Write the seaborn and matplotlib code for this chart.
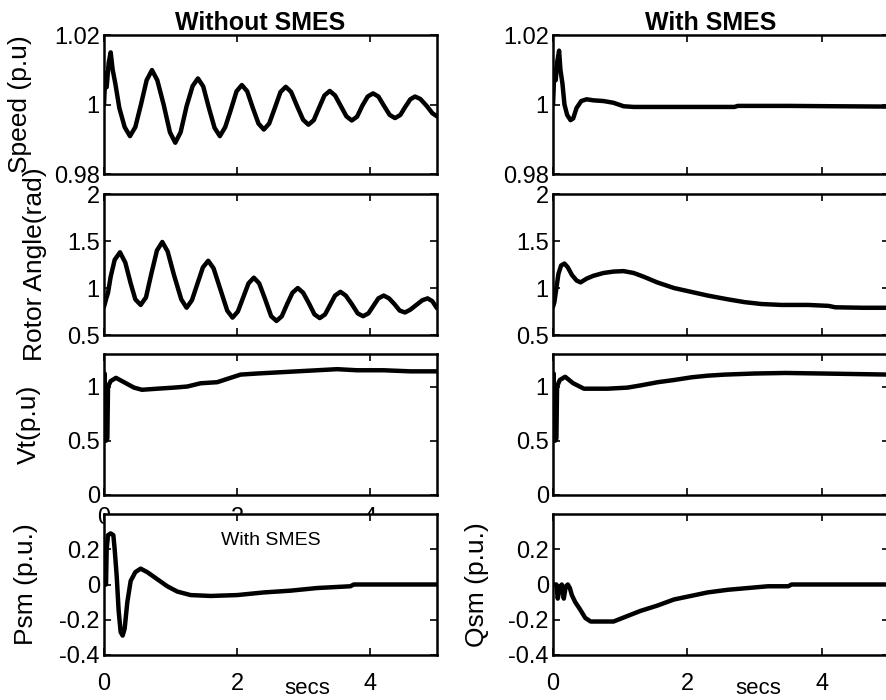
import matplotlib
matplotlib.use("Agg")
import matplotlib.pyplot as plt
import seaborn as sns

# ---- values (time in secs) ----
t_speed_wo = [0.00, 0.02, 0.04, 0.07, 0.10, 0.13, 0.17, 0.23, 0.31, 0.39, 0.47, 0.555, 0.64, 0.72,
              0.80, 0.895, 0.99, 1.07, 1.15, 1.24, 1.33, 1.41, 1.49, 1.575, 1.66, 1.74, 1.82, 1.905,
              1.99, 2.07, 2.15, 2.235, 2.32, 2.40, 2.48, 2.565, 2.65, 2.73, 2.81, 2.90, 2.99, 3.07,
              3.15, 3.23, 3.31, 3.39, 3.47, 3.555, 3.64, 3.72, 3.80, 3.88, 3.96, 4.04, 4.12, 4.205,
              4.29, 4.37, 4.45, 4.52, 4.60, 4.67, 4.75, 4.85, 4.93, 5.00]
speed_wo = [1.000, 1.009, 1.005, 1.012, 1.015, 1.010, 1.006, 0.999, 0.9935, 0.9909, 0.9935, 1.000,
            1.007, 1.0099, 1.007, 1.000, 0.992, 0.989, 0.992, 0.9995, 1.0053, 1.0075, 1.0052, 0.999,
            0.9933, 0.9909, 0.9935, 0.9985, 1.0038, 1.0056, 1.0038, 0.999, 0.9945, 0.9928, 0.9945,
            0.999, 1.0036, 1.0051, 1.0036, 0.9995, 0.9956, 0.9942, 0.9955, 0.9991, 1.0026, 1.0039,
            1.0026, 0.9996, 0.9966, 0.9954, 0.9965, 0.9997, 1.0023, 1.0032, 1.0023, 0.9996, 0.9970,
            0.9961, 0.9970, 0.9992, 1.0015, 1.0023, 1.0016, 0.9995, 0.9975, 0.9966]

t_speed_w = [0.00, 0.02, 0.04, 0.06, 0.09, 0.11, 0.14, 0.17, 0.21, 0.26, 0.30, 0.35, 0.42, 0.50,
             0.60, 0.75, 0.90, 1.05, 1.20, 2.00, 2.70, 2.75, 3.50, 4.20, 5.00]
speed_w = [1.000, 1.010, 1.007, 1.012, 1.0155, 1.010, 1.006, 1.000, 0.997, 0.9955, 0.996, 0.999,
           1.001, 1.0015, 1.0012, 1.001, 1.0005, 0.9995, 0.9993, 0.9993, 0.9993, 0.9996, 0.9996,
           0.9995, 0.9994]

t_angle_wo = [0.00, 0.03, 0.06, 0.10, 0.16, 0.24, 0.32, 0.40, 0.47, 0.55, 0.63, 0.71, 0.795, 0.875,
              0.955, 1.05, 1.16, 1.24, 1.32, 1.40, 1.485, 1.565, 1.645, 1.75, 1.85, 1.93, 2.01, 2.09,
              2.17, 2.25, 2.33, 2.42, 2.51, 2.59, 2.67, 2.75, 2.83, 2.91, 2.99, 3.075, 3.16, 3.24,
              3.32, 3.395, 3.47, 3.55, 3.63, 3.72, 3.81, 3.89, 3.97, 4.045, 4.12, 4.20, 4.28, 4.36,
              4.44, 4.52, 4.60, 4.69, 4.78, 4.86, 4.93, 5.00]
angle_wo = [0.80, 0.88, 0.95, 1.12, 1.30, 1.38, 1.27, 1.05, 0.88, 0.82, 0.90, 1.15, 1.40, 1.49,
            1.39, 1.14, 0.88, 0.79, 0.87, 1.04, 1.22, 1.29, 1.21, 0.98, 0.76, 0.685, 0.75, 0.90,
            1.05, 1.11, 1.05, 0.88, 0.70, 0.65, 0.70, 0.83, 0.95, 1.00, 0.95, 0.84, 0.72, 0.68,
            0.72, 0.82, 0.92, 0.96, 0.92, 0.83, 0.73, 0.70, 0.73, 0.81, 0.89, 0.92, 0.89, 0.83,
            0.76, 0.74, 0.77, 0.82, 0.87, 0.89, 0.86, 0.785]

t_angle_w = [0.00, 0.02, 0.05, 0.08, 0.12, 0.17, 0.22, 0.28, 0.35, 0.41, 0.50, 0.60, 0.75, 0.90,
             1.05, 1.20, 1.35, 1.55, 1.80, 2.05, 2.30, 2.60, 2.85, 3.10, 3.40, 3.80, 4.10, 4.20,
             4.60, 5.00]
angle_w = [0.80, 0.85, 1.00, 1.15, 1.24, 1.26, 1.22, 1.14, 1.08, 1.06, 1.10, 1.13, 1.16, 1.175,
           1.18, 1.16, 1.12, 1.06, 1.00, 0.96, 0.92, 0.88, 0.85, 0.83, 0.82, 0.82, 0.81, 0.795,
           0.79, 0.79]

t_vt_wo = [0.00, 0.01, 0.02, 0.03, 0.05, 0.06, 0.10, 0.18, 0.30, 0.45, 0.57, 0.80, 1.05, 1.25,
           1.45, 1.70, 1.85, 2.05, 2.30, 2.60, 2.90, 3.20, 3.50, 3.80, 4.20, 4.60, 5.00]
vt_wo = [1.10, 1.12, 0.52, 0.50, 0.52, 1.00, 1.05, 1.08, 1.04, 0.99, 0.97, 0.98, 0.99, 1.00,
         1.03, 1.04, 1.07, 1.11, 1.12, 1.13, 1.14, 1.15, 1.16, 1.15, 1.15, 1.14, 1.14]

t_vt_w = [0.00, 0.01, 0.02, 0.03, 0.05, 0.06, 0.10, 0.18, 0.30, 0.46, 0.81, 1.11, 1.30, 1.56,
          1.80, 2.06, 2.30, 2.56, 3.00, 3.46, 4.00, 4.50, 5.00]
vt_w = [1.10, 1.12, 0.52, 0.50, 0.52, 1.00, 1.06, 1.09, 1.03, 0.98, 0.98, 0.99, 1.01, 1.04,
        1.06, 1.085, 1.10, 1.11, 1.12, 1.125, 1.12, 1.115, 1.11]

t_psm = [0.00, 0.03, 0.04, 0.06, 0.10, 0.14, 0.16, 0.19, 0.22, 0.25, 0.28, 0.31, 0.35, 0.40,
         0.47, 0.55, 0.65, 0.80, 0.95, 1.10, 1.30, 1.60, 2.00, 2.40, 2.80, 3.20, 3.70, 3.75,
         4.30, 5.00]
psm = [0.00, 0.00, 0.20, 0.28, 0.29, 0.28, 0.20, 0.05, -0.15, -0.27, -0.29, -0.25, -0.10, 0.02,
       0.07, 0.09, 0.07, 0.03, -0.01, -0.04, -0.06, -0.065, -0.06, -0.045, -0.035, -0.02, -0.01,
       0.00, 0.00, 0.00]

t_qsm = [0.00, 0.05, 0.07, 0.10, 0.13, 0.16, 0.19, 0.22, 0.25, 0.28, 0.33, 0.40, 0.48, 0.56,
         0.70, 0.90, 1.10, 1.30, 1.55, 1.80, 2.05, 2.30, 2.60, 2.90, 3.20, 3.50, 3.55, 4.20, 5.00]
qsm = [0.00, 0.00, -0.08, -0.02, 0.00, -0.08, -0.01, 0.00, -0.02, -0.06, -0.10, -0.14, -0.19,
       -0.21, -0.21, -0.21, -0.18, -0.15, -0.12, -0.085, -0.065, -0.045, -0.03, -0.02, -0.01,
       -0.01, 0.00, 0.00, 0.00]

x_ticks = [0, 2, 4]
x_ticklabels = ["0", "2", "4"]
speed_ticks, speed_labels = [0.98, 1.0, 1.02], ["0.98", "1", "1.02"]
angle_ticks, angle_labels = [0.5, 1.0, 1.5, 2.0], ["0.5", "1", "1.5", "2"]
vt_ticks, vt_labels = [0, 0.5, 1.0], ["0", "0.5", "1"]
pq_ticks, pq_labels = [-0.4, -0.2, 0, 0.2], ["-0.4", "-0.2", "0", "0.2"]

sns.set_theme(style="ticks")
plt.rcParams['font.family'] = ['Liberation Sans', 'DejaVu Sans']
plt.rcParams['axes.linewidth'] = 1.8
plt.rcParams['text.color'] = 'black'
plt.rcParams['axes.labelcolor'] = 'black'
plt.rcParams['axes.edgecolor'] = 'black'

fig = plt.figure(figsize=(8.86, 7.0), dpi=100)

col_x = [0.1174, 0.6242]
col_w = [0.3758, 0.3792]
row_y = [0.7514, 0.5214, 0.2929, 0.0643]
row_h = [0.1986, 0.2014, 0.2014, 0.2014]

# (row, col, t, y, ylim, ticks, labels, ylabel, label x)
panels = [
    (0, 0, t_speed_wo, speed_wo, (0.98, 1.02), speed_ticks, speed_labels, "Speed (p.u)", -0.215),
    (0, 1, t_speed_w, speed_w, (0.98, 1.02), speed_ticks, speed_labels, None, None),
    (1, 0, t_angle_wo, angle_wo, (0.5, 2.0), angle_ticks, angle_labels, "Rotor Angle(rad)", -0.17),
    (1, 1, t_angle_w, angle_w, (0.5, 2.0), angle_ticks, angle_labels, None, None),
    (2, 0, t_vt_wo, vt_wo, (0, 1.3), vt_ticks, vt_labels, "Vt(p.u)", -0.19),
    (2, 1, t_vt_w, vt_w, (0, 1.3), vt_ticks, vt_labels, None, None),
    (3, 0, t_psm, psm, (-0.4, 0.4), pq_ticks, pq_labels, "Psm (p.u.)", -0.198),
    (3, 1, t_qsm, qsm, (-0.4, 0.4), pq_ticks, pq_labels, "Qsm (p.u.)", -0.19),
]

for row, col, t, y, ylim, ticks, labels, ylabel, lx in panels:
    ax = fig.add_axes([col_x[col], row_y[row], col_w[col], row_h[row]])
    ax.set_facecolor("white")
    sns.lineplot(x=t, y=y, ax=ax, color="black", lw=3.2, sort=False, estimator=None)
    ax.set_xlim(0, 5)
    ax.set_ylim(*ylim)
    ax.set_yticks(ticks)
    ax.set_yticklabels(labels)
    ax.set_xticks(x_ticks)
    ax.tick_params(direction="in", top=True, right=True, length=5, width=1.2,
                   labelsize=17, pad=3, colors="black")
    if row == 3:
        ax.set_xticklabels(x_ticklabels)
        ax.tick_params(axis="x", pad=13)
        ax.text(3.05, -0.235, "secs", transform=ax.get_xaxis_transform(),
                ha="center", va="center", fontsize=16, color="black")
    elif row == 2 and col == 0:
        # scan shows these labels half-hidden under the panel below
        ax.set_xticklabels(x_ticklabels)
        ax.tick_params(axis="x", pad=9)
    else:
        ax.set_xticklabels([])
    if ylabel:
        ax.set_ylabel(ylabel, fontsize=19, color="black")
        ax.yaxis.set_label_coords(lx, 0.5)
    else:
        ax.set_ylabel("")
    if row == 0:
        ax.set_title("Without SMES" if col == 0 else "With SMES",
                     fontsize=18, fontweight="bold", pad=3, x=0.47, color="black")
    if row == 3 and col == 0:
        ax.text(2.5, 0.25, "With SMES", ha="center", va="center", fontsize=14, color="black")

fig.savefig("out.png", dpi=100)
